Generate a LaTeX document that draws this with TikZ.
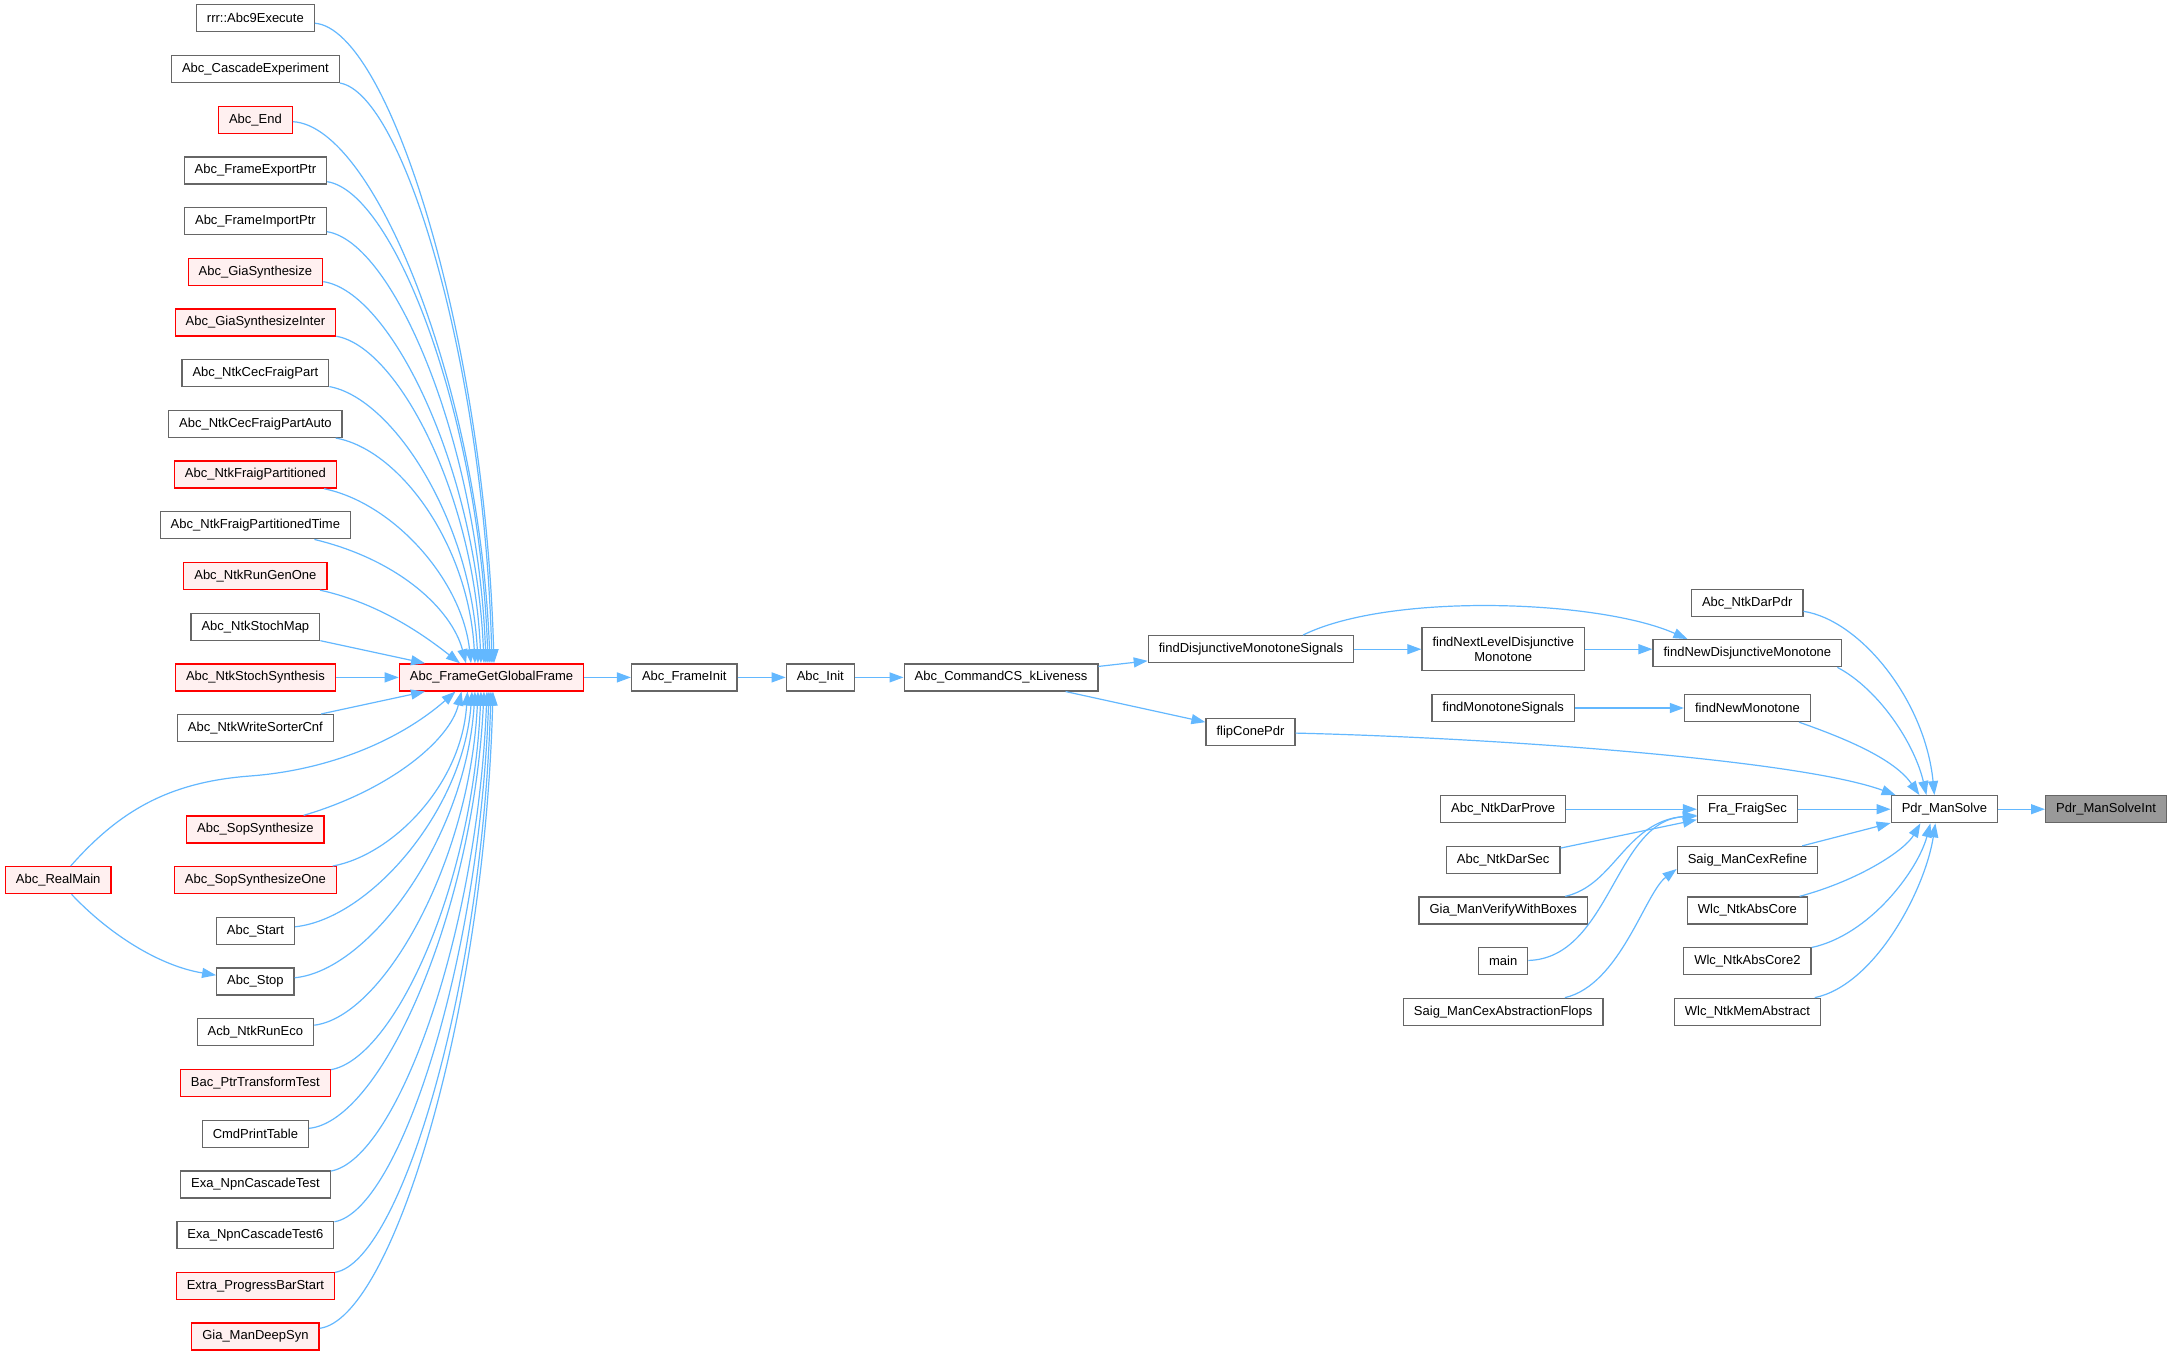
\documentclass[tikz,border=0pt]{standalone}
\usepackage{fontspec}
\setmainfont{Liberation Sans}
\usetikzlibrary{arrows.meta}
\definecolor{edgeblue}{HTML}{63B8FF}
\definecolor{boxgray}{HTML}{666666}
\definecolor{redfill}{HTML}{FFF0F0}
\definecolor{rootfill}{HTML}{999999}
\begin{document}
\begin{tikzpicture}[x=1pt,y=-1pt,
 box/.style={draw=boxgray, line width=1.3pt, fill=white, rectangle, inner xsep=10.5pt, inner ysep=0pt, minimum height=27pt, font=\fontsize{13}{15.7}\selectfont, text=black},
 redbox/.style={box, draw=red, fill=redfill},
 rootbox/.style={box, fill=rootfill},
 edge/.style={draw=edgeblue, line width=1.2pt, -{Triangle[length=14pt,width=10pt]}}
]
\fill[white] (0,0) rectangle (2172,1355);
\useasboundingbox (0,0) rectangle (2172,1355);

% left column
\node[box]    (n0)  at (255.4,18.3)   {rrr::Abc9Execute};
\node[box]    (n1)  at (255.4,69.0)   {Abc\_CascadeExperiment};
\node[redbox] (n2)  at (255.4,119.7)  {Abc\_End};
\node[box]    (n3)  at (255.4,170.4)  {Abc\_FrameExportPtr};
\node[box]    (n4)  at (255.4,221.1)  {Abc\_FrameImportPtr};
\node[redbox] (n5)  at (255.4,271.8)  {Abc\_GiaSynthesize};
\node[redbox] (n6)  at (255.4,322.5)  {Abc\_GiaSynthesizeInter};
\node[box]    (n7)  at (255.4,373.2)  {Abc\_NtkCecFraigPart};
\node[box]    (n8)  at (255.4,423.9)  {Abc\_NtkCecFraigPartAuto};
\node[redbox] (n9)  at (255.4,474.6)  {Abc\_NtkFraigPartitioned};
\node[box]    (n10) at (255.4,525.3)  {Abc\_NtkFraigPartitionedTime};
\node[redbox] (n11) at (255.4,576.0)  {Abc\_NtkRunGenOne};
\node[box]    (n12) at (255.4,626.7)  {Abc\_NtkStochMap};
\node[redbox] (n13) at (255.4,677.4)  {Abc\_NtkStochSynthesis};
\node[box]    (n14) at (255.4,728.1)  {Abc\_NtkWriteSorterCnf};
\node[redbox] (n16) at (255.4,829.5)  {Abc\_SopSynthesize};
\node[redbox] (n17) at (255.4,880.2)  {Abc\_SopSynthesizeOne};
\node[box]    (n18) at (255.4,930.9)  {Abc\_Start};
\node[box]    (n19) at (255.4,981.6)  {Abc\_Stop};
\node[box]    (n20) at (255.4,1032.3) {Acb\_NtkRunEco};
\node[redbox] (n21) at (255.4,1083.0) {Bac\_PtrTransformTest};
\node[box]    (n22) at (255.4,1133.7) {CmdPrintTable};
\node[box]    (n23) at (255.4,1184.4) {Exa\_NpnCascadeTest};
\node[box]    (n24) at (255.4,1235.1) {Exa\_NpnCascadeTest6};
\node[redbox] (n25) at (255.4,1285.8) {Extra\_ProgressBarStart};
\node[redbox] (n26) at (255.4,1336.5) {Gia\_ManDeepSyn};
\node[redbox] (ra)  at (58.2,880.2)   {Abc\_RealMain};

% chain
\node[redbox] (gf) at (491.5,677.4) {Abc\_FrameGetGlobalFrame};
\node[box] (fi) at (684.3,677.4) {Abc\_FrameInit};
\node[box] (ai) at (820.3,677.4) {Abc\_Init};
\node[box] (kl) at (1001,677.4) {Abc\_CommandCS\_kLiveness};
\node[box] (fdms) at (1251,649.2) {findDisjunctiveMonotoneSignals};
\node[box, align=center, minimum height=43pt] (fnldm) at (1503.3,649.2) {findNextLevelDisjunctive\\Monotone};
\node[box] (fndm) at (1747.4,653.2) {findNewDisjunctiveMonotone};
\node[box] (ndp) at (1747.2,602.7) {Abc\_NtkDarPdr};
\node[box] (fms) at (1503.2,708) {findMonotoneSignals};
\node[box] (fnm) at (1747.4,708) {findNewMonotone};
\node[box] (flip) at (1250.5,732) {flipConePdr};
\node[box] (dprove) at (1503.2,809.2) {Abc\_NtkDarProve};
\node[box] (fra) at (1747.4,809.2) {Fra\_FraigSec};
\node[box] (dsec) at (1503.2,860) {Abc\_NtkDarSec};
\node[box] (smcr) at (1747.4,860) {Saig\_ManCexRefine};
\node[box] (gmv) at (1503.2,910.5) {Gia\_ManVerifyWithBoxes};
\node[box] (wac) at (1747.4,910.5) {Wlc\_NtkAbsCore};
\node[box] (mainf) at (1503.2,961.2) {main};
\node[box] (wac2) at (1747.4,961.2) {Wlc\_NtkAbsCore2};
\node[box] (smcaf) at (1503.2,1011.8) {Saig\_ManCexAbstractionFlops};
\node[box] (wma) at (1747.4,1011.8) {Wlc\_NtkMemAbstract};
\node[box] (pdr) at (1944.4,809.2) {Pdr\_ManSolve};
\node[rootbox] (pdri) at (2106,809.2) {Pdr\_ManSolveInt};

% edges into Abc_FrameGetGlobalFrame (top)
\draw[edge] (n0) .. controls (390.4,29.5) and (485.1,340.9) .. ([xshift=2.5pt]gf.north);
\draw[edge] (n1) .. controls (404.0,93.7) and (484.4,366.3) .. ([xshift=0.5pt]gf.north);
\draw[edge] (n2) .. controls (375.6,126.1) and (480.1,391.6) .. ([xshift=-1.5pt]gf.north);
\draw[edge] (n3) .. controls (394.7,192.3) and (480.0,417.0) .. ([xshift=-3.5pt]gf.north);
\draw[edge] (n4) .. controls (393.7,241.6) and (478.0,442.3) .. ([xshift=-5.5pt]gf.north);
\draw[edge] (n5) .. controls (391.0,291.5) and (476.0,467.7) .. ([xshift=-7.5pt]gf.north);
\draw[edge] (n6) .. controls (397.2,346.6) and (473.8,493.0) .. ([xshift=-10.5pt]gf.north);
\draw[edge] (n7) .. controls (392.3,398.0) and (470.6,518.4) .. ([xshift=-13.5pt]gf.north);
\draw[edge] (n8) .. controls (399.0,449.2) and (468.5,543.7) .. ([xshift=-16.5pt]gf.north);
\draw[edge] (n9) .. controls (393.5,503.0) and (462.0,580.0) .. ([xshift=-20.5pt]gf.north);
\draw[edge] (n10) .. controls (399.7,559.9) and (452.0,610.0) .. ([xshift=-25.5pt]gf.north);
\draw[edge] (n11) .. controls (383.3,604.0) and (430.0,640.0) .. ([xshift=-31.5pt]gf.north);
\draw[edge] (n12) -- ([xshift=-66.5pt]gf.north);
\draw[edge] (n13) -- (gf);
% bottom
\draw[edge] (n14) -- ([xshift=-66.5pt]gf.south);
\draw[edge] (ra) .. controls (120,810) and (170,782) .. (250,776) .. controls (330,770) and (400,740) .. ([xshift=-36pt]gf.south);
\draw[edge] (n16) .. controls (390,790) and (450,740) .. ([xshift=-30pt]gf.south);
\draw[edge] (n17) .. controls (392.0,855.2) and (461.5,785.3) .. ([xshift=-24pt]gf.south);
\draw[edge] (n18) .. controls (369.6,919.0) and (463.2,810.7) .. ([xshift=-19.5pt]gf.south);
\draw[edge] (n19) .. controls (370.7,970.3) and (466.0,836.0) .. ([xshift=-16.5pt]gf.south);
\draw[edge] (n20) .. controls (383.6,1016.8) and (469.9,861.4) .. ([xshift=-13.5pt]gf.south);
\draw[edge] (n21) .. controls (394.0,1058.5) and (472.6,886.8) .. ([xshift=-10.5pt]gf.south);
\draw[edge] (n22) .. controls (381.9,1121.0) and (473.4,912.1) .. ([xshift=-7.5pt]gf.south);
\draw[edge] (n23) .. controls (396.1,1159.5) and (477.3,937.5) .. ([xshift=-4.5pt]gf.south);
\draw[edge] (n24) .. controls (399.1,1210.8) and (479.4,962.8) .. ([xshift=-2.5pt]gf.south);
\draw[edge] (n25) .. controls (400.3,1261.3) and (482.3,988.2) .. ([xshift=-0.5pt]gf.south);
\draw[edge] (n26) .. controls (392.4,1319.0) and (484.3,1013.5) .. ([xshift=1.5pt]gf.south);
\draw[edge] (ra) .. controls (110,935) and (160,966) .. (n19);

% chain edges
\draw[edge] (gf) -- (fi);
\draw[edge] (fi) -- (ai);
\draw[edge] (ai) -- (kl);
\draw[edge] (kl) -- (fdms);
\draw[edge] (kl) -- (flip);
\draw[edge] (fdms) -- (fnldm);
\draw[edge] (fnldm.east) -- (fnldm.east -| fndm.west);
\draw[edge] ([xshift=52pt]fdms.north) .. controls (1390,592) and (1600,600) .. ([xshift=-60pt]fndm.north);
\draw[edge] (fms) -- (fnm);

% into Pdr_ManSolve
\draw[edge] (ndp) .. controls (1860,620) and (1925,700) .. ([xshift=-10pt]pdr.north);
\draw[edge] ([xshift=-5pt]fndm.south east) .. controls (1880,690) and (1915,745) .. ([xshift=-18pt]pdr.north);
\draw[edge] ([xshift=-12pt]fnm.south east) .. controls (1850,740) and (1895,760) .. ([xshift=-25pt]pdr.north);
\draw[edge] (flip) .. controls (1500,738) and (1800,760) .. ([xshift=5pt]pdr.north west);
\draw[edge] (fra) -- (pdr);
\draw[edge] (smcr) -- (pdr);
\draw[edge] (wac) .. controls (1860,880) and (1905,850) .. ([xshift=-24pt]pdr.south);
\draw[edge] (wac2) .. controls (1870,935) and (1918,870) .. ([xshift=-14pt]pdr.south);
\draw[edge] (wma) .. controls (1875,985) and (1925,890) .. ([xshift=-9pt]pdr.south);
\draw[edge] (pdr) -- (pdri);

% into Fra_FraigSec
\draw[edge] (dprove) -- (fra);
\draw[edge] (dsec) -- (fra);
\draw[edge] (gmv) .. controls (1615,885) and (1625,822) .. ([yshift=-6pt]fra.west);
\draw[edge] (mainf) .. controls (1610,958) and (1615,820) .. ([yshift=-7pt]fra.west);
\draw[edge] (smcaf) .. controls (1620,985) and (1645,893) .. ([yshift=-9pt]smcr.west);
\end{tikzpicture}
\end{document}
